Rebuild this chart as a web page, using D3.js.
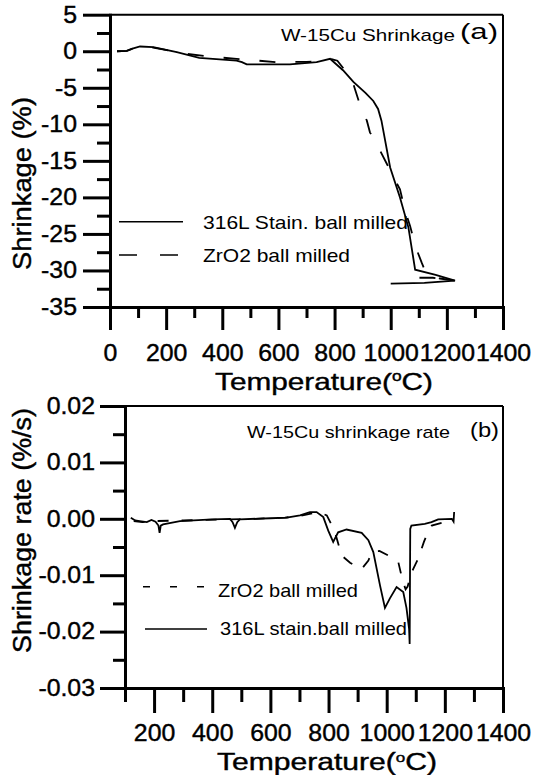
<html>
<head>
<script src="https://d3js.org/d3.v7.min.js"></script>
<style>
body { margin:0; background:#fff; }
text { font-family: "Liberation Sans", Arial, sans-serif; fill:#000; }
.heavy text, text.heavy { stroke:#000; stroke-width:0.4px; }
</style>
</head>
<body>
<div id="chart"></div>
<script>

// (a) shrinkage, %
var tempA316   = [25, 60, 80, 107, 154, 238, 318, 451, 470, 487, 641, 736, 784, 830, 867, 910, 938, 955, 967, 998, 1033, 1063, 1087, 1160, 1229, 1120, 1000]
var shrinkA316 = [0, 0.05, 0.35, 0.65, 0.55, -0.13, -0.9, -1.27, -1.5, -1.8, -1.8, -1.5, -1.04, -2.6, -4.2, -5.7, -6.8, -7.9, -9.5, -15.9, -20, -24.1, -29.9, -30.6, -31.4, -31.7, -31.8]
var tempAZr    = [25, 60, 80, 107, 154, 238, 273, 356, 451, 594, 700, 759, 790, 810, 843, 867, 891, 915, 926, 950, 986, 1004, 1033, 1051, 1069, 1087, 1110, 1125, 1175, 1229, 1150, 1093]
var shrinkAZr  = [0, 0.05, 0.35, 0.6, 0.5, -0.1, -0.36, -0.73, -1.04, -1.5, -1.45, -1.37, -1.1, -1.3, -2.9, -4.5, -7.4, -9.5, -11.1, -12.7, -15.4, -16.8, -18.9, -21.8, -23.9, -26.6, -28.9, -30.3, -31.1, -31.4, -31.0, -31.0]

// (b) shrinkage rate, %/s
var tempB316 = [120, 135, 150, 175, 191, 205, 215, 219, 223, 231, 289, 400, 461, 470, 478, 486, 495, 600, 656, 702, 736, 759, 782, 799, 816, 833, 862, 914, 937, 954, 977, 994, 1011, 1034, 1057, 1068, 1077, 1079, 1081, 1085, 1131, 1154, 1177, 1224, 1230, 1232]
var rateB316 = [0.0002, -0.0003, -0.0004, -0.0006, -0.0002, -0.0005, -0.0012, -0.0025, -0.0012, -0.001, -0.0004, -0.0001, 0, -0.0006, -0.0016, -0.0006, -0.0001, 0.0001, 0.0002, 0.0006, 0.0012, 0.0012, 0.0003, -0.0021, -0.0041, -0.0024, -0.0019, -0.0025, -0.0038, -0.0059, -0.0118, -0.0158, -0.0141, -0.0121, -0.013, -0.0158, -0.0195, -0.0222, -0.0018, -0.0012, -0.0009, -0.0006, -0.0001, 0, -0.0005, 0.0012]
var tempBZr  = [130, 160, 200, 300, 450, 550, 650, 700, 765, 794, 820, 845, 874, 914, 937, 950, 975, 1005, 1040, 1055, 1065, 1072, 1080, 1091, 1108, 1128, 1139, 1155, 1190, 1225]
var rateBZr  = [-0.0004, -0.0006, -0.0004, -0.0003, -0.0001, 0, 0.0002, 0.0005, 0.0012, 0.0006, -0.002, -0.0065, -0.0078, -0.0089, -0.0074, -0.0058, -0.0057, -0.0065, -0.0077, -0.011, -0.0125, -0.012, -0.0105, -0.0089, -0.0071, -0.0041, -0.0027, -0.0012, -0.0007, -0.0004]

var xTicksA = [0, 200, 400, 600, 800, 1000, 1200, 1400]
var xMinorA = [100, 300, 500, 700, 900, 1100, 1300]
var yTicksA = [5, 0, -5, -10, -15, -20, -25, -30, -35]
var yMinorA = [2.5, -2.5, -7.5, -12.5, -17.5, -22.5, -27.5, -32.5]
var xTicksB = [200, 400, 600, 800, 1000, 1200, 1400]
var xMinorB = [100, 300, 500, 700, 900, 1100, 1300]
var yTicksB = [0.02, 0.01, 0, -0.01, -0.02, -0.03]
var yMinorB = [0.015, 0.005, -0.005, -0.015, -0.025]

var svg = d3.select("#chart").append("svg").attr("width", 538).attr("height", 775)

function stretch(sel, k) {
	sel.each(function(){
		var l = this.getComputedTextLength()
		d3.select(this).attr("textLength", l*k).attr("lengthAdjust", "spacingAndGlyphs")
	})
}

function fit(t, w) { t.attr("textLength", w).attr("lengthAdjust", "spacingAndGlyphs"); return t }

function drawAxes(x, y, xt, xm, yt, ym, fmt, s) {
	// s: tick sizes and paddings
	var x0 = x.range()[0], x1 = x.range()[1], y0 = y.range()[0], y1 = y.range()[1]

	svg.append("line").attr("x1", x0).attr("x2", x1).attr("y1", y1).attr("y2", y1).attr("stroke", "#000").attr("stroke-width", 2)
	svg.append("line").attr("x1", x1).attr("x2", x1).attr("y1", y1).attr("y2", y0).attr("stroke", "#000").attr("stroke-width", 2)

	var gxm = svg.append("g").attr("transform", "translate(0," + y0 + ")")
		.call(d3.axisBottom(x).tickValues(xm).tickSize(s.xMinor).tickFormat(""))
	gxm.select(".domain").remove()

	var gym = svg.append("g").attr("transform", "translate(" + x0 + ",0)")
		.call(d3.axisLeft(y).tickValues(ym).tickSize(s.yMinor).tickFormat(""))
	gym.select(".domain").remove()

	var gx = svg.append("g").attr("class", "heavy").attr("transform", "translate(0," + y0 + ")")
		.call(d3.axisBottom(x).tickValues(xt).tickSize(s.xMajor).tickSizeOuter(0).tickPadding(s.xPad).tickFormat(function(d){ return String(d) }))

	var gy = svg.append("g").attr("class", "heavy").attr("transform", "translate(" + x0 + ",0)")
		.call(d3.axisLeft(y).tickValues(yt).tickSize(s.yMajor).tickSizeOuter(0).tickPadding(s.yPad).tickFormat(fmt))

	;[gx, gy, gxm, gym].forEach(function(g){
		g.attr("font-family", null).attr("font-size", 23)
		g.selectAll(".tick line").attr("stroke-width", 3)
		g.select(".domain").attr("stroke-width", 3).attr("stroke-linecap", "square")
		g.selectAll(".tick text").attr("fill", "#000")
	})
	stretch(gx.selectAll(".tick text"), 1.08)
	stretch(gy.selectAll(".tick text"), 1.08)
}

function curve(x, y, tt, vv, dash) {
	var line = d3.line().x(function(d){ return x(d[0]) }).y(function(d){ return y(d[1]) })
	svg.append("path").datum(d3.zip(tt, vv)).attr("d", line)
		.attr("fill", "none").attr("stroke", "#000").attr("stroke-width", 1.8)
		.attr("stroke-dasharray", dash)
}

// ---------- panel (a)
var xA = d3.scaleLinear().domain([0, 1400]).range([110, 503])
var yA = d3.scaleLinear().domain([-35, 5]).range([307, 14.7])

curve(xA, yA, tempAZr, shrinkAZr, "16,20")
curve(xA, yA, tempA316, shrinkA316, null)

drawAxes(xA, yA, xTicksA, xMinorA, yTicksA, yMinorA, function(d){ return String(d) },
	{xMajor: 23, xMinor: 11, xPad: 15, yMajor: 27, yMinor: 13, yPad: 6})

fit(svg.append("text").attr("x", 281).attr("y", 41).attr("font-size", 17).text("W-15Cu Shrinkage"), 174)
fit(svg.append("text").attr("x", 460).attr("y", 38.5).attr("font-size", 22).text("(a)"), 38)

svg.append("line").attr("x1", 119).attr("x2", 183).attr("y1", 221.7).attr("y2", 221.7).attr("stroke", "#000").attr("stroke-width", 1.6)
fit(svg.append("text").attr("x", 203).attr("y", 228.5).attr("font-size", 19).text("316L Stain. ball milled"), 205)
svg.append("line").attr("x1", 119).attr("x2", 178).attr("y1", 255).attr("y2", 255).attr("stroke", "#000").attr("stroke-width", 1.6).attr("stroke-dasharray", "18,23")
fit(svg.append("text").attr("x", 203).attr("y", 261.7).attr("font-size", 19).text("ZrO2 ball milled"), 147)

var tA = svg.append("text").attr("class", "heavy").attr("x", 324).attr("y", 390).attr("font-size", 24).attr("text-anchor", "middle")
tA.append("tspan").text("Temperature(")
tA.append("tspan").attr("font-size", 14).attr("dy", -9).text("o")
tA.append("tspan").attr("dy", 9).text("C)")
fit(tA, 218)

fit(svg.append("text").attr("class", "heavy").attr("transform", "translate(31,183.5) rotate(-90)").attr("text-anchor", "middle").attr("font-size", 25).text("Shrinkage (%)"), 173)

// ---------- panel (b)
var xB = d3.scaleLinear().domain([100, 1400]).range([125, 503])
var yB = d3.scaleLinear().domain([-0.03, 0.02]).range([688, 406])

curve(xB, yB, tempBZr, rateBZr, "11,13")
curve(xB, yB, tempB316, rateB316, null)

drawAxes(xB, yB, xTicksB, xMinorB, yTicksB, yMinorB, function(d){ return d.toFixed(2) },
	{xMajor: 25, xMinor: 14, xPad: 12, yMajor: 25, yMinor: 12, yPad: 5})

fit(svg.append("text").attr("x", 247).attr("y", 438.3).attr("font-size", 17).text("W-15Cu shrinkage rate"), 203)
fit(svg.append("text").attr("x", 470).attr("y", 437).attr("font-size", 21).text("(b)"), 29)

svg.append("line").attr("x1", 143).attr("x2", 204).attr("y1", 586.7).attr("y2", 586.7).attr("stroke", "#000").attr("stroke-width", 1.6).attr("stroke-dasharray", "7,20")
fit(svg.append("text").attr("x", 218).attr("y", 596.7).attr("font-size", 19).text("ZrO2 ball milled"), 140)
svg.append("line").attr("x1", 145).attr("x2", 207).attr("y1", 629).attr("y2", 629).attr("stroke", "#000").attr("stroke-width", 1.6)
fit(svg.append("text").attr("x", 220).attr("y", 635).attr("font-size", 19).text("316L stain.ball milled"), 187)

var tB = svg.append("text").attr("class", "heavy").attr("x", 327).attr("y", 770).attr("font-size", 23).attr("text-anchor", "middle")
tB.append("tspan").text("Temperature(")
tB.append("tspan").attr("font-size", 13).attr("dy", -8).text("o")
tB.append("tspan").attr("dy", 8).text("C)")
fit(tB, 220)

fit(svg.append("text").attr("class", "heavy").attr("transform", "translate(31,530.5) rotate(-90)").attr("text-anchor", "middle").attr("font-size", 25).text("Shrinkage rate (%/s)"), 245)

</script>
</body>
</html>
